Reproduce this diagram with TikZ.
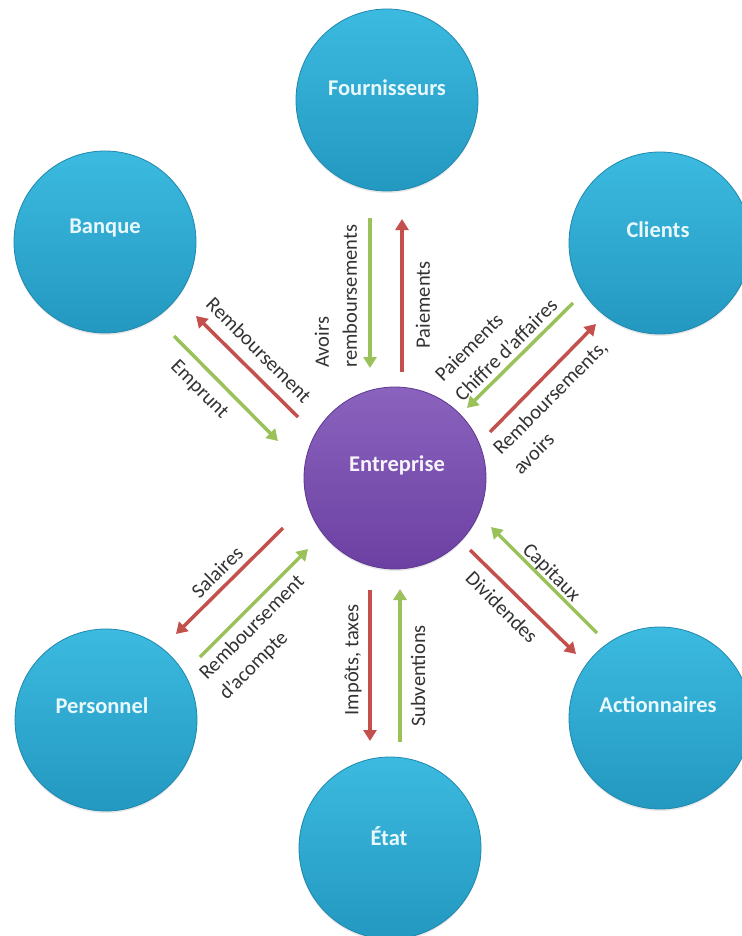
\documentclass[tikz,border=0pt]{standalone}
\usepackage{fontspec}
\setmainfont{Carlito}
\usetikzlibrary{arrows.meta,shadows}
\definecolor{ballTop}{HTML}{3CBAE0}
\definecolor{ballBot}{HTML}{2398C0}
\definecolor{ballEdge}{HTML}{1F88AE}
\definecolor{purTop}{HTML}{8A63BE}
\definecolor{purBot}{HTML}{6C40A2}
\definecolor{purEdge}{HTML}{5E3890}
\definecolor{titleCol}{HTML}{E8F8FC}
\definecolor{labCol}{HTML}{333333}
\definecolor{arrGreen}{HTML}{9BC25A}
\definecolor{arrRed}{HTML}{C4504E}
\tikzset{
  ball/.style={circle, minimum size=182pt, inner sep=0pt, top color=ballTop, bottom color=ballBot,
    draw=ballEdge, line width=0.8pt, drop shadow={opacity=0.18, shadow xshift=0pt, shadow yshift=-2pt}},
  pball/.style={ball, top color=purTop, bottom color=purBot, draw=purEdge},
  title/.style={font=\bfseries\fontsize{22.5}{26}\selectfont, text=titleCol, inner sep=0pt},
  lab/.style={font=\fontsize{20.5}{28}\selectfont, text=labCol, inner sep=0pt, align=left},
  grarrow/.style={draw=arrGreen, line width=3.5pt, -{Triangle[length=11pt,width=13pt]}},
  rdarrow/.style={draw=arrRed, line width=3.5pt, -{Triangle[length=11pt,width=13pt]}}
}
\begin{document}
\begin{tikzpicture}[x=1pt,y=-1pt]
\useasboundingbox[fill=white] (0,0) rectangle (741,936);
% circles
\node[ball]  (F) at (387,100) {};
\node[ball]  (B) at (105,242) {};
\node[ball]  (C) at (660,243) {};
\node[pball] (E) at (395,478) {};
\node[ball]  (P) at (106,720) {};
\node[ball]  (A) at (660,718) {};
\node[ball]  (S) at (390,848) {};
% titles
\node[title] (Ft) at (387,88)  {Fournisseurs};
\node[title] (Bt) at (105,228) {Banque};
\node[title] (Ct) at (658,230) {Clients};
\node[title, text=white!92!purTop] (Et) at (397,465) {Entreprise};
\node[title] (Pt) at (102,706) {Personnel};
\node[title] (At) at (658,705) {Actionnaires};
\node[title] (St) at (389,836) {État};
% arrow end points
\coordinate (fg1) at (370,218); \coordinate (fg2) at (370,368);
\coordinate (fr1) at (402,372); \coordinate (fr2) at (402,219);
\coordinate (br1) at (298,417); \coordinate (br2) at (196,316);
\coordinate (bg1) at (174,336); \coordinate (bg2) at (278,441);
\coordinate (cg1) at (573,303); \coordinate (cg2) at (467,408);
\coordinate (cr1) at (490,432); \coordinate (cr2) at (596,324);
\coordinate (pr1) at (283,528); \coordinate (pr2) at (176,634);
\coordinate (pg1) at (200,657); \coordinate (pg2) at (308,549);
\coordinate (ag1) at (597,633); \coordinate (ag2) at (491,527);
\coordinate (ar1) at (470,550); \coordinate (ar2) at (576,654);
\coordinate (sr1) at (370,590); \coordinate (sr2) at (370,741);
\coordinate (sg1) at (400,742); \coordinate (sg2) at (400,589);
% arrows
\draw[grarrow] (fg1) -- (fg2);
\draw[rdarrow] (fr1) -- (fr2);
\draw[rdarrow] (br1) -- (br2);
\draw[grarrow] (bg1) -- (bg2);
\draw[grarrow] (cg1) -- (cg2);
\draw[rdarrow] (cr1) -- (cr2);
\draw[rdarrow] (pr1) -- (pr2);
\draw[grarrow] (pg1) -- (pg2);
\draw[grarrow] (ag1) -- (ag2);
\draw[rdarrow] (ar1) -- (ar2);
\draw[rdarrow] (sr1) -- (sr2);
\draw[grarrow] (sg1) -- (sg2);
% labels
\node[lab, rotate=90, anchor=west] (l1) at (336,368) {Avoirs\\remboursements};
\node[lab, rotate=90] (l2) at (423,305) {Paiements};
\node[lab, rotate=-45] (l3) at (259,350) {Remboursement};
\node[lab, rotate=-45] (l4) at (199,390) {Emprunt};
\node[lab, rotate=45, anchor=west] (l5) at (448,388) {Paiements\\Chiffre d’affaires};
\node[lab, rotate=45, anchor=west] (l6) at (506,461) {Remboursements,\\avoirs};
\node[lab, rotate=45] (l7) at (217,572) {Salaires};
\node[lab, rotate=45, anchor=west] (l8) at (213,687) {Remboursement\\d’acompte};
\node[lab, rotate=-45] (l9) at (551,573) {Capitaux};
\node[lab, rotate=-45] (l10) at (502,607) {Dividendes};
\node[lab, rotate=90] (l11) at (353,660) {Impôts, taxes};
\node[lab, rotate=90] (l12) at (418,676) {Subventions};
\end{tikzpicture}
\end{document}
